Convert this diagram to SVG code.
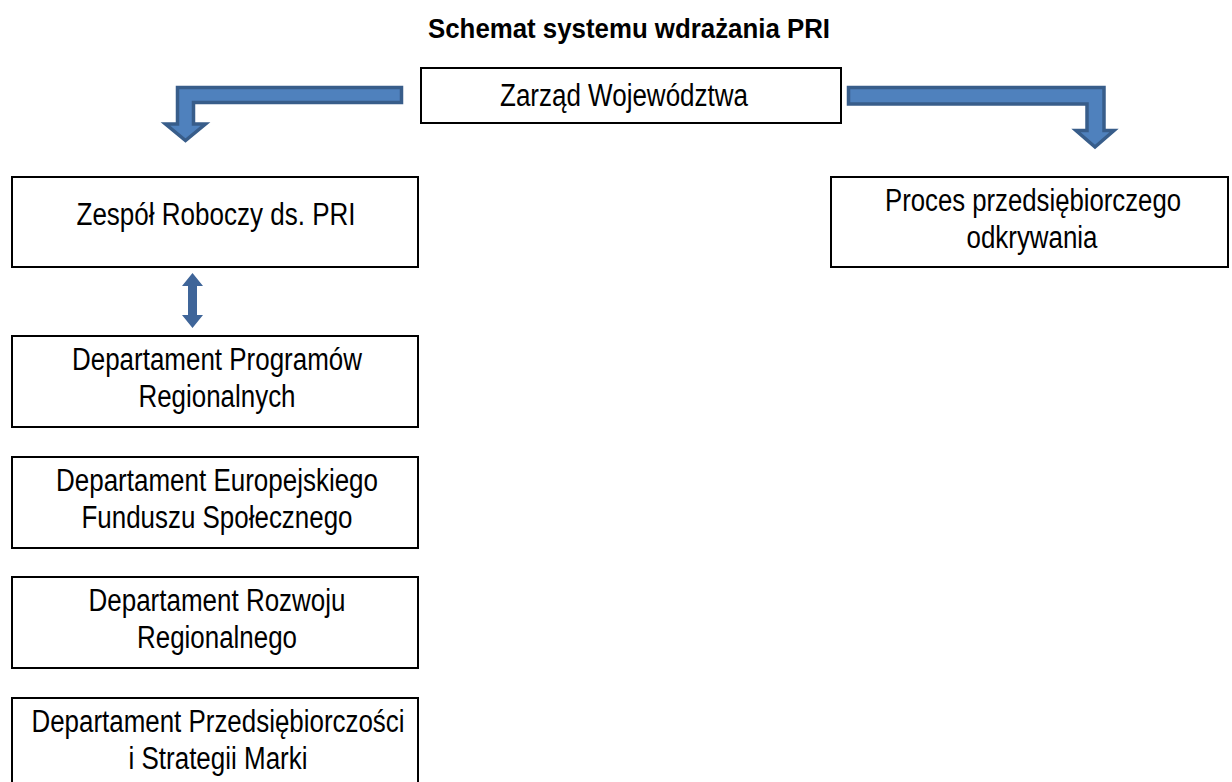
<svg xmlns="http://www.w3.org/2000/svg" width="1232" height="782" viewBox="0 0 1232 782">
<style>
.box{fill:#ffffff;stroke:#000000;stroke-width:2}
.t{font-family:"Liberation Sans Narrow","Liberation Sans",Arial,sans-serif;font-size:31px;fill:#000000;text-anchor:middle}
.title{font-family:"Liberation Sans",Arial,sans-serif;font-size:27px;font-weight:bold;fill:#000000;text-anchor:middle}
.bent{fill:#4F81BD;stroke:#385D8A;stroke-width:3.5;stroke-linejoin:miter}
.dbl{fill:#3F6599;stroke:none}
</style>
<rect width="1232" height="782" fill="#ffffff"/>
<text class="title" x="629" y="38" textLength="402" lengthAdjust="spacingAndGlyphs">Schemat systemu wdrażania PRI</text>

<g id="connectors">
<path class="bent" d="M401.5,87.5 L177.5,87.5 L177.5,124 L165.5,124 L185.5,140.5 L205.5,124 L193.5,124 L193.5,102.5 L401.5,102.5 Z"/>
<path class="bent" d="M848.5,87.5 L1104,87.5 L1104,130.5 L1114,130.5 L1095,147 L1076,130.5 L1087,130.5 L1087,104 L848.5,104 Z"/>
<path class="dbl" d="M192.5,273 L203,286 L197,286 L197,315 L203,315 L192.5,328 L182,315 L188,315 L188,286 L182,286 Z"/>
</g>

<g id="zarzad">
<rect class="box" x="421" y="68" width="420" height="55"/>
<text class="t" x="624" y="106" textLength="248" lengthAdjust="spacingAndGlyphs">Zarząd Województwa</text>
</g>

<g id="zespol">
<rect class="box" x="12" y="177" width="406" height="90"/>
<text class="t" x="216" y="225" textLength="279" lengthAdjust="spacingAndGlyphs">Zespół Roboczy ds. PRI</text>
</g>

<g id="proces">
<rect class="box" x="831" y="177" width="397" height="90"/>
<text class="t" x="1033" y="211" textLength="296" lengthAdjust="spacingAndGlyphs">Proces przedsiębiorczego</text>
<text class="t" x="1032" y="248" textLength="131" lengthAdjust="spacingAndGlyphs">odkrywania</text>
</g>

<g id="dep-programow">
<rect class="box" x="12" y="336" width="406" height="91"/>
<text class="t" x="217" y="370" textLength="290" lengthAdjust="spacingAndGlyphs">Departament Programów</text>
<text class="t" x="217" y="407" textLength="157" lengthAdjust="spacingAndGlyphs">Regionalnych</text>
</g>

<g id="dep-efs">
<rect class="box" x="12" y="457" width="406" height="91"/>
<text class="t" x="217" y="491" textLength="322" lengthAdjust="spacingAndGlyphs">Departament Europejskiego</text>
<text class="t" x="217" y="528" textLength="271" lengthAdjust="spacingAndGlyphs">Funduszu Społecznego</text>
</g>

<g id="dep-rozwoju">
<rect class="box" x="12" y="577" width="406" height="91"/>
<text class="t" x="217" y="611" textLength="257" lengthAdjust="spacingAndGlyphs">Departament Rozwoju</text>
<text class="t" x="217" y="648" textLength="160" lengthAdjust="spacingAndGlyphs">Regionalnego</text>
</g>

<g id="dep-przedsiebiorczosci">
<rect class="box" x="12" y="698" width="406" height="100"/>
<text class="t" x="218" y="732" textLength="373" lengthAdjust="spacingAndGlyphs">Departament Przedsiębiorczości</text>
<text class="t" x="218" y="769" textLength="179" lengthAdjust="spacingAndGlyphs">i Strategii Marki</text>
</g>
</svg>
